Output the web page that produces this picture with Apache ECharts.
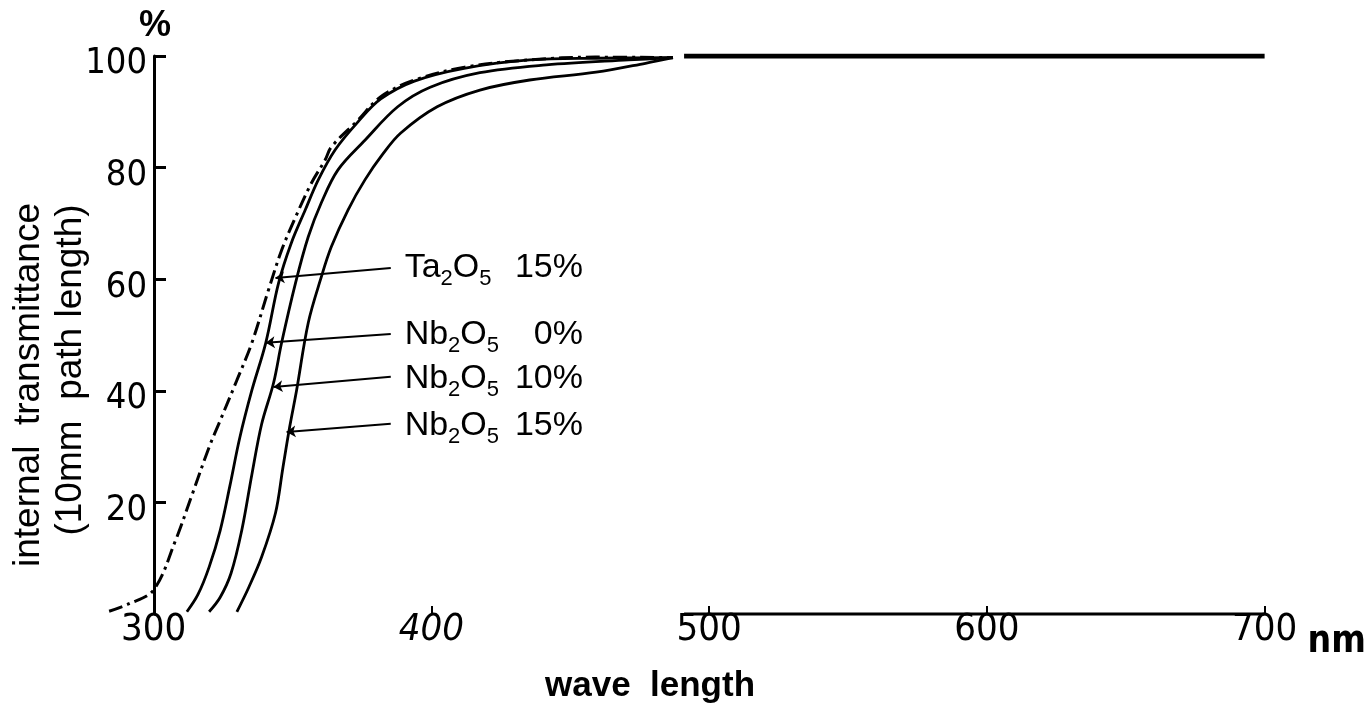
<!DOCTYPE html>
<html>
<head>
<meta charset="utf-8">
<script src="https://cdn.jsdelivr.net/npm/echarts@6/dist/echarts.min.js"></script>
<style>
  html, body { margin: 0; padding: 0; background: #fff; }
  #chart { width: 1369px; height: 708px; }
</style>
</head>
<body>
<div id="chart"></div>
<script>
// wavelength (nm), internal transmittance (%)
var ta15 = [[284, 0.5], [291, 1.8], [300, 4.3], [308, 13.3], [313.6, 21], [320, 29.9], [323.6, 34.2], [330, 41.9], [335.4, 48.6], [341.4, 58.1], [346.1, 65.2], [351.1, 71.1], [356.8, 77.2], [361.8, 81.4], [364, 83.7], [373.6, 88.5], [381.8, 92.7], [394, 95.7], [412, 98], [435, 99.3], [459, 99.8], [487, 99.7]]
var nb0 = [[312, 0.4], [316, 3.5], [320, 8.4], [324, 15], [327.5, 23], [331, 31.5], [335.4, 40.1], [340.4, 48.6], [345, 59.3], [349.6, 66.5], [354.6, 72.4], [359.3, 77.8], [365.4, 83.2], [373.6, 88.2], [381.8, 92.3], [393.9, 95.5], [411.8, 97.8], [435.4, 99.3], [459.3, 99.6], [487, 99.7]]
var nb10 = [[320, 0.4], [324, 3], [327.9, 7.3], [331.8, 15.1], [335.4, 25], [338.9, 34], [343.2, 41.4], [346.1, 48.6], [351.1, 59.3], [355.7, 67.6], [360.4, 73.7], [366.4, 79.6], [376.1, 84.9], [387.9, 90.9], [399.6, 94.4], [417.5, 97], [441.4, 98.4], [471, 99.3], [487, 99.7]]
var nb15 = [[330, 0.4], [334.3, 4.8], [338.9, 10.2], [343.9, 18.1], [346.5, 26], [349, 33.5], [351.5, 40.1], [355.7, 52.2], [360.4, 60.4], [364, 65.8], [370, 72.4], [376.1, 77.8], [382.5, 82.4], [389, 86.2], [402.1, 90.9], [417.5, 93.9], [435.4, 95.7], [459.3, 97.1], [477.1, 98.7], [487, 99.7]]
// flat part of the curves and the drawn base line
var flatTop = [[491, 100], [700, 100]]
var flatBase = [[491, 0], [700, 0]]

var xTicks = [300, 400, 500, 600, 700]
var xMarks = [400, 500, 600, 700]
var yTicks = [20, 40, 60, 80, 100]

// annotations: name, percent, text row (nm, %), arrow tail / tip (nm, %)
var noteNames = ['Ta', 'Nb', 'Nb', 'Nb']
var notePct = ['15%', '0%', '10%', '15%']
var noteRowT = [62.0, 50.0, 42.1, 33.7]
var noteNameNm = 390.4
var notePctNm = 454.6
var arrowTail = [[385.4, 62.0], [385.4, 50.2], [385.4, 42.5], [385.4, 34.1]]
var arrowTip = [[343.9, 60.2], [340.4, 48.6], [343.2, 40.7], [347.9, 32.6]]

var narrow = "'Liberation Sans Narrow', 'DejaVu Sans Condensed', 'Liberation Sans', sans-serif"
var plain = "'Liberation Sans', Arial, sans-serif"

var myChart = echarts.init(document.getElementById('chart'))

function arrow(i) {
  return {
    silent: true,
    symbol: ['none', 'arrow'],
    symbolSize: 9,
    lineStyle: { color: '#000', width: 2, type: 'solid' },
    label: { show: false },
    data: [[{ coord: arrowTail[i] }, { coord: arrowTip[i] }]]
  }
}

function curve(name, data, i, dash) {
  return {
    name: name,
    type: 'line',
    data: data,
    smooth: 0.35,
    symbol: 'none',
    lineStyle: { color: '#000', width: dash ? 3 : 2.8, type: dash || 'solid' },
    markLine: arrow(i)
  }
}

// the plot area starts a little left of 300 nm (the dash-dot curve runs past the axis);
// the y axis is shifted right onto 300 nm with offset
var option = {
  animation: false,
  backgroundColor: '#fff',
  grid: { left: 98, top: 56, width: 1176, height: 558 },
  xAxis: {
    type: 'value',
    min: 280,
    max: 700,
    axisLine: { show: false },
    axisTick: {
      show: true, inside: true, length: 8,
      customValues: xMarks,
      lineStyle: { color: '#000', width: 2 }
    },
    axisLabel: {
      customValues: xTicks,
      margin: -3,
      color: '#000',
      fontSize: 38,
      fontFamily: narrow,
      formatter: function (v) {
        return v === 400 ? '{it|400}' : String(v)
      },
      rich: {
        it: { fontStyle: 'italic', fontSize: 38, fontFamily: narrow, color: '#000' }
      }
    },
    splitLine: { show: false },
    name: 'nm',
    nameLocation: 'end',
    nameGap: 43,
    nameTextStyle: {
      color: '#000', fontSize: 37, fontWeight: 'bold', fontFamily: narrow,
      align: 'left', verticalAlign: 'top', padding: [10, 0, 0, 0]
    }
  },
  yAxis: {
    type: 'value',
    min: 0,
    max: 100,
    offset: -56,
    axisLine: { show: true, onZero: false, lineStyle: { color: '#000', width: 3 } },
    axisTick: {
      show: true, inside: true, length: 12,
      customValues: yTicks,
      lineStyle: { color: '#000', width: 3 }
    },
    axisLabel: {
      customValues: yTicks,
      margin: 7,
      color: '#000',
      fontSize: 36,
      fontFamily: narrow,
      verticalAlign: 'top',
      lineHeight: 16
    },
    splitLine: { show: false }
  },
  series: [
    curve('Ta2O5 15%', ta15, 0, [14, 5, 3, 5]),
    curve('Nb2O5 0%', nb0, 1),
    curve('Nb2O5 10%', nb10, 2),
    curve('Nb2O5 15%', nb15, 3),
    {
      name: 'top', type: 'line', data: flatTop, symbol: 'none',
      lineStyle: { color: '#000', width: 5 }
    },
    {
      name: 'base', type: 'line', data: flatBase, symbol: 'none', clip: false,
      lineStyle: { color: '#000', width: 3 }
    }
  ]
}
myChart.setOption(option)

// texts: axis titles and the curve labels (placed through the grid's scales)
var rich = {
  m: { fontSize: 34, lineHeight: 44, fontFamily: plain, color: '#000' },
  s: { fontSize: 22, fontFamily: plain, color: '#000', verticalAlign: 'bottom' }
}
var graphics = [
  {
    type: 'text', x: 155, y: 26,
    style: { text: '%', font: 'bold 36px ' + plain, fill: '#000', textAlign: 'center', textVerticalAlign: 'middle' }
  },
  {
    type: 'text', x: 29, y: 385, rotation: Math.PI / 2,
    style: { text: 'internal  transmittance', font: '37px ' + plain, fill: '#000', textAlign: 'center', textVerticalAlign: 'middle' }
  },
  {
    type: 'text', x: 71, y: 370, rotation: Math.PI / 2,
    style: { text: '(10mm  path length)', font: '37px ' + plain, fill: '#000', textAlign: 'center', textVerticalAlign: 'middle' }
  },
  {
    type: 'text', x: 650, y: 686,
    style: { text: 'wave  length', font: 'bold 35px ' + plain, fill: '#000', textAlign: 'center', textVerticalAlign: 'middle' }
  }
]
noteNames.forEach(function (el, i) {
  var p1 = myChart.convertToPixel({ gridIndex: 0 }, [noteNameNm, noteRowT[i]])
  var p2 = myChart.convertToPixel({ gridIndex: 0 }, [notePctNm, noteRowT[i]])
  graphics.push({
    type: 'text', x: p1[0], y: p1[1],
    style: { text: '{m|' + el + '}{s|2}{m|O}{s|5}', rich: rich, textAlign: 'left', textVerticalAlign: 'middle' }
  })
  graphics.push({
    type: 'text', x: p2[0], y: p2[1],
    style: { text: notePct[i], font: '34px ' + plain, fill: '#000', textAlign: 'right', textVerticalAlign: 'middle' }
  })
})
myChart.setOption({ graphic: graphics })
</script>
</body>
</html>
